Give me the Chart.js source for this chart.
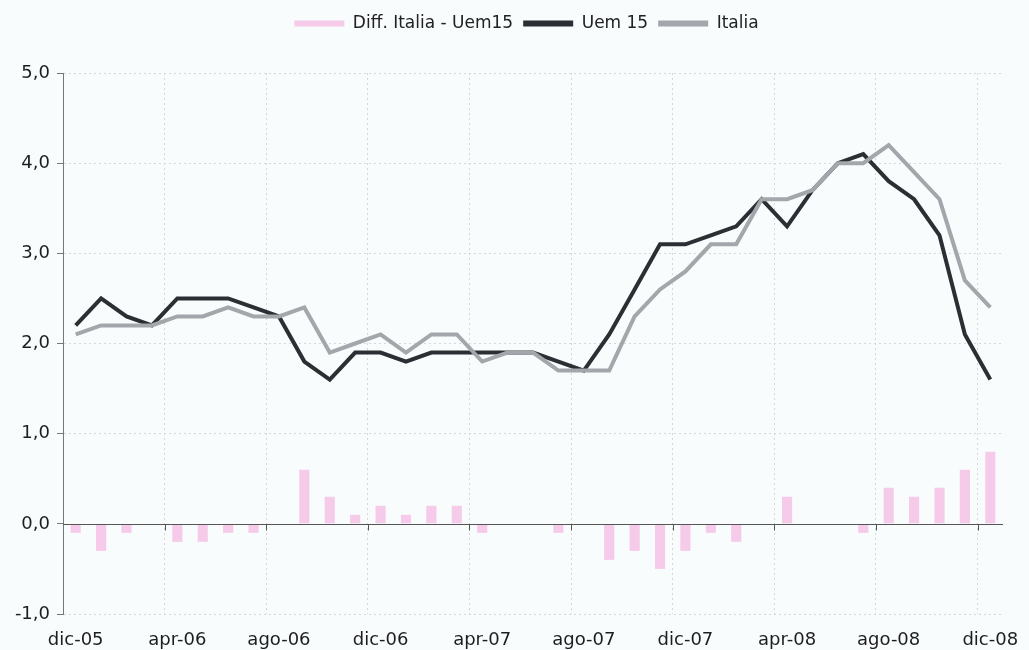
<!DOCTYPE html>
<html lang="it">
<head>
<meta charset="UTF-8">
<title>Inflazione Italia - Uem15</title>
<script src="https://cdn.jsdelivr.net/npm/chart.js"></script>
<style>
  html, body { margin: 0; padding: 0; background: #f8fcfc; }
  #wrap { width: 1029px; height: 650px; }
</style>
</head>
<body>
<div id="wrap"><canvas id="grafico"></canvas></div>
<script>
  const mesi = [
    "dic-05", "gen-06", "feb-06", "mar-06", "apr-06", "mag-06", "giu-06", "lug-06",
    "ago-06", "set-06", "ott-06", "nov-06", "dic-06", "gen-07", "feb-07", "mar-07",
    "apr-07", "mag-07", "giu-07", "lug-07", "ago-07", "set-07", "ott-07", "nov-07",
    "dic-07", "gen-08", "feb-08", "mar-08", "apr-08", "mag-08", "giu-08", "lug-08",
    "ago-08", "set-08", "ott-08", "nov-08", "dic-08"
  ];
  const uem15 = [
    2.2, 2.5, 2.3, 2.2, 2.5, 2.5, 2.5, 2.4,
    2.3, 1.8, 1.6, 1.9, 1.9, 1.8, 1.9, 1.9,
    1.9, 1.9, 1.9, 1.8, 1.7, 2.1, 2.6, 3.1,
    3.1, 3.2, 3.3, 3.6, 3.3, 3.7, 4.0, 4.1,
    3.8, 3.6, 3.2, 2.1, 1.6
  ];
  const italia = [
    2.1, 2.2, 2.2, 2.2, 2.3, 2.3, 2.4, 2.3,
    2.3, 2.4, 1.9, 2.0, 2.1, 1.9, 2.1, 2.1,
    1.8, 1.9, 1.9, 1.7, 1.7, 1.7, 2.3, 2.6,
    2.8, 3.1, 3.1, 3.6, 3.6, 3.7, 4.0, 4.0,
    4.2, 3.9, 3.6, 2.7, 2.4
  ];
  const diff = [
    -0.1, -0.3, -0.1, 0.0, -0.2, -0.2, -0.1, -0.1,
    0.0, 0.6, 0.3, 0.1, 0.2, 0.1, 0.2, 0.2,
    -0.1, 0.0, 0.0, -0.1, 0.0, -0.4, -0.3, -0.5,
    -0.3, -0.1, -0.2, 0.0, 0.3, 0.0, 0.0, -0.1,
    0.4, 0.3, 0.4, 0.6, 0.8
  ];

  const ROSA = "#f6cbe9";
  const NERO = "#2b2f33";
  const GRIGIO = "#a3a6aa";
  const FONT = "'DejaVu Sans', sans-serif";

  // linea dello zero con le tacche dell'asse x
  const lineaZero = {
    id: "lineaZero",
    afterDatasetsDraw(chart) {
      const { ctx, chartArea, scales } = chart;
      const x = scales.x, y = scales.y;
      const y0 = Math.round(y.getPixelForValue(0)) + 0.5;
      ctx.save();
      ctx.strokeStyle = "#555";
      ctx.lineWidth = 1;
      ctx.beginPath();
      ctx.moveTo(chartArea.left, y0);
      ctx.lineTo(chartArea.right, y0);
      for (let i = 4; i < mesi.length; i += 4) {
        const xp = Math.round((x.getPixelForValue(i - 1) + x.getPixelForValue(i)) / 2) + 0.5;
        ctx.moveTo(xp, y0);
        ctx.lineTo(xp, y0 + 6);
      }
      ctx.stroke();
      ctx.restore();
    }
  };

  // la legenda nell'originale e' un po' spostata (a destra e in alto)
  const spostaLegenda = {
    id: "spostaLegenda",
    afterLayout(chart) {
      const lg = chart.legend;
      lg.left += 25;
      lg.right += 25;
      lg.top -= 31;
      lg.bottom -= 31;
    }
  };

  new Chart(document.getElementById("grafico"), {
    type: "bar",
    data: {
      labels: mesi,
      datasets: [
        {
          type: "bar",
          label: "Diff. Italia - Uem15",
          data: diff,
          backgroundColor: ROSA,
          borderColor: ROSA,
          borderWidth: 0,
          barPercentage: 0.4,
          categoryPercentage: 1,
          order: 3
        },
        {
          type: "line",
          label: "Uem 15",
          data: uem15,
          borderColor: NERO,
          backgroundColor: NERO,
          borderWidth: 4,
          pointRadius: 0,
          tension: 0,
          order: 2
        },
        {
          type: "line",
          label: "Italia",
          data: italia,
          borderColor: GRIGIO,
          backgroundColor: GRIGIO,
          borderWidth: 4,
          pointRadius: 0,
          tension: 0,
          order: 1
        }
      ]
    },
    options: {
      responsive: true,
      maintainAspectRatio: false,
      animation: false,
      layout: { padding: { top: 36, right: 26, left: 0, bottom: 0 } },
      plugins: {
        tooltip: { enabled: false },
        legend: {
          position: "top",
          labels: {
            boxWidth: 50,
            boxHeight: 6,
            padding: 10,
            color: "#222",
            font: { family: FONT, size: 17 },
            sort: (a, b) => a.datasetIndex - b.datasetIndex,
            generateLabels: chart =>
              Chart.defaults.plugins.legend.labels.generateLabels(chart).map(l => ({
                ...l, lineWidth: 0, fillStyle: l.strokeStyle
              }))
          }
        }
      },
      scales: {
        x: {
          offset: true,
          afterFit: s => { s.height = 36; s.paddingLeft = 0; s.paddingRight = 0; },
          border: { display: false, dash: [2, 3] },
          grid: {
            offset: true,
            drawTicks: false,
            color: c => (c.index > 0 && c.index % 4 === 0) ? "#d3d9db" : "transparent"
          },
          ticks: {
            autoSkip: false,
            maxRotation: 0,
            padding: 16,
            color: "#1e1e1e",
            font: { family: FONT, size: 18 },
            callback: (v, i) => i % 4 === 0 ? mesi[i] : ""
          }
        },
        y: {
          min: -1,
          max: 5,
          afterFit: s => { s.width = 63; },
          border: { display: true, color: "#777", width: 1, dash: [2, 3] },
          grid: {
            color: c => c.tick && c.tick.value === 0 ? "transparent" : "#d3d9db",
            tickColor: "#777",
            tickLength: 6
          },
          ticks: {
            stepSize: 1,
            padding: 7,
            color: "#1e1e1e",
            font: { family: FONT, size: 18 },
            callback: v => v.toFixed(1).replace(".", ",")
          }
        }
      }
    },
    plugins: [lineaZero, spostaLegenda]
  });
</script>
</body>
</html>
